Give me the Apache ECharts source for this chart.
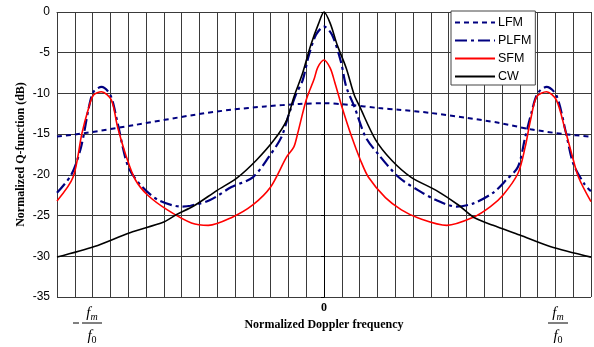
<!DOCTYPE html>
<html>
<head>
<meta charset="utf-8">
<script src="https://cdn.jsdelivr.net/npm/echarts@6/dist/echarts.min.js"></script>
<style>
  html, body { margin: 0; padding: 0; background: #fff; }
  #container { width: 594px; height: 347px; }
</style>
</head>
<body>
<div id="container"></div>
<script>
// x: normalized doppler (one grid cell per unit), y: dB
var lfm = [[-15, -15.3], [-13.5, -14.9], [-10.7, -13.9], [-7.2, -12.6], [-5.2, -12.0], [-3.3, -11.6],
    [-1.4, -11.3], [0, -11.2], [1.4, -11.4], [3.1, -11.8], [4.2, -12.0], [6.0, -12.4],
    [8.0, -13.0], [9.8, -13.6], [11.6, -14.4], [13.5, -15.0], [15, -15.3]];

var plfm = [[-15, -22.2], [-14.2, -20], [-13.65, -16.6], [-13.2, -11.6], [-12.95, -9.8], [-12.5, -9.2],
    [-12.0, -10.2], [-11.6, -13.6], [-11.0, -19], [-10.2, -21.5], [-9.3, -23.1], [-8.0, -23.9],
    [-7.5, -23.8], [-6.4, -23.1], [-5.2, -21.5], [-4.0, -20.3], [-3.1, -17.8], [-2.4, -15.4],
    [-1.95, -12.4], [-1.55, -10], [-1.2, -8.4], [-0.85, -5.3], [-0.45, -2.8], [0, -1.8],
    [0.45, -2.8], [0.95, -6.1], [1.25, -9.2], [1.7, -11.6], [2.35, -15.4], [3.1, -17.6],
    [4.2, -20.3], [5.3, -21.9], [6.3, -23.1], [7.45, -23.9], [8.4, -23.5], [9.5, -22.2],
    [10.25, -20.6], [10.9, -19], [11.3, -15.4], [11.65, -12.4], [12.0, -10], [12.5, -9.2],
    [13.05, -10.2], [13.6, -14.9], [14.0, -18.6], [14.65, -21.2], [15, -22]];

var sfm = [[-15, -23.2], [-14.1, -20.3], [-13.6, -14.9], [-13.25, -12], [-12.95, -10.2], [-12.5, -9.8],
    [-11.95, -10.8], [-11.6, -14.1], [-11.1, -17.8], [-10.6, -20.6], [-9.9, -22.5], [-8.8, -24.3],
    [-7.45, -25.9], [-6.5, -26.2], [-5.15, -25.2], [-4.0, -23.7], [-3.0, -21.5], [-2.1, -17.8],
    [-1.7, -16.6], [-1.5, -15.1], [-1.0, -10.8], [-0.55, -8.2], [-0.35, -6.8], [0, -5.9],
    [0.35, -6.9], [0.6, -8.6], [1.0, -11.6], [1.55, -15.3], [2.05, -18.2], [2.5, -20.3],
    [3.45, -22.8], [4.35, -24.3], [5.3, -25.3], [6.9, -26.2], [8.4, -25.2], [9.35, -23.9],
    [10.05, -22.5], [10.9, -19.8], [11.3, -16.6], [11.6, -13.3], [11.95, -10.4], [12.5, -9.8],
    [13.05, -10.8], [13.55, -14.5], [13.9, -17.3], [14.3, -20.3], [15, -23.3]];

var cw = [[-15, -30.1], [-12.9, -28.8], [-10.9, -27.1], [-9.0, -25.8], [-8.3, -24.9], [-7.3, -23.8],
    [-6.0, -21.9], [-4.9, -20.4], [-3.8, -18.2], [-2.8, -15.7], [-2.1, -13.3], [-1.7, -10.5],
    [-1.2, -7.5], [-0.75, -4.1], [-0.3, -1.4], [0, 0], [0.35, -1.4], [0.75, -4.1],
    [1.25, -6.9], [1.7, -10.2], [2.0, -11.6], [2.9, -15.7], [3.8, -18.2], [4.9, -20.3],
    [6.3, -21.9], [7.55, -23.7], [8.4, -25.2], [9.5, -26.2], [11.0, -27.4], [12.7, -28.8], [15, -30.1]];

var yTicks = { min: -35, max: 0, step: 5 };
var xTicks = { min: -15, max: 15, step: 1 };

var dom = document.getElementById("container");
var myChart = echarts.init(dom);

var gridColor = '#3a3a3a';
var serif = '"Liberation Serif", "Times New Roman", serif';
var sans = '"Liberation Sans", Arial, sans-serif';

// fraction label f_m / f_0, drawn as text + bar
function fraction(cx, withMinus) {
    var els = [
        { type: 'text', x: cx, y: 313,
          style: { text: '{f|f}{s|m}', align: 'center', verticalAlign: 'middle',
                   rich: { f: { fontFamily: serif, fontStyle: 'italic', fontSize: 15 },
                           s: { fontFamily: serif, fontStyle: 'italic', fontSize: 10, padding: [8, 0, 0, 0] } } } },
        { type: 'line', shape: { x1: cx - 10, y1: 323, x2: cx + 10, y2: 323 },
          style: { stroke: '#000', lineWidth: 1 } },
        { type: 'text', x: cx, y: 336,
          style: { text: '{f|f}{s|0}', align: 'center', verticalAlign: 'middle',
                   rich: { f: { fontFamily: serif, fontStyle: 'italic', fontSize: 15 },
                           s: { fontFamily: serif, fontSize: 10, padding: [8, 0, 0, 0] } } } }
    ];
    if (withMinus) {
        els.push({ type: 'line', shape: { x1: cx - 19, y1: 323, x2: cx - 13, y2: 323 },
                   style: { stroke: '#000', lineWidth: 1 } });
    }
    return els;
}

var option = {
    animation: false,
    backgroundColor: '#fff',
    grid: { left: 57, right: 1, top: 12, bottom: 50 },
    legend: {
        orient: 'vertical',
        left: 451,
        top: 11,
        padding: [5, 4, 2, 3],
        itemGap: 5,
        itemWidth: 40,
        itemHeight: 14,
        backgroundColor: '#fff',
        borderColor: '#444',
        borderWidth: 1,
        itemStyle: { color: 'rgba(0,0,0,0)', borderWidth: 0 },
        textStyle: { fontFamily: sans, fontSize: 12.5, color: '#000', padding: [0, 0, 0, -2] },
        data: ['LFM', 'PLFM', 'SFM', 'CW']
    },
    xAxis: {
        type: 'value',
        min: xTicks.min,
        max: xTicks.max,
        interval: xTicks.step,
        name: 'Normalized Doppler frequency',
        nameLocation: 'middle',
        nameGap: 22,
        nameTextStyle: { fontFamily: serif, fontWeight: 'bold', fontSize: 12, color: '#000' },
        axisLine: { show: true, lineStyle: { color: gridColor } },
        axisTick: { show: false },
        axisLabel: {
            margin: 5,
            fontFamily: serif, fontWeight: 'bold', fontSize: 12, color: '#000',
            formatter: function (v) { return v === 0 ? '0' : ''; }
        },
        splitLine: { show: true, lineStyle: { color: gridColor, width: 1 } }
    },
    yAxis: {
        type: 'value',
        min: yTicks.min,
        max: yTicks.max,
        interval: yTicks.step,
        name: 'Normalized Q-function (dB)',
        nameLocation: 'middle',
        nameGap: 30,
        nameMoveOverlap: false,
        nameTextStyle: { fontFamily: serif, fontWeight: 'bold', fontSize: 12, color: '#000' },
        axisLine: { show: true, lineStyle: { color: '#000' } },
        axisTick: { show: true, length: 3, lineStyle: { color: '#000' } },
        axisLabel: { margin: 7, fontFamily: sans, fontSize: 12, color: '#000' },
        splitLine: { show: true, lineStyle: { color: gridColor, width: 1 } }
    },
    graphic: fraction(92, true).concat(fraction(558, false)),
    series: [
        { name: 'LFM', type: 'line', data: lfm, symbol: 'none', smooth: 0.3,
          lineStyle: { color: '#000080', width: 2, type: [5, 4] }, itemStyle: { color: '#000080' } },
        { name: 'PLFM', type: 'line', data: plfm, symbol: 'none', smooth: 0.3,
          lineStyle: { color: '#000080', width: 2.2, type: [12, 4, 3, 4] }, itemStyle: { color: '#000080' } },
        { name: 'SFM', type: 'line', data: sfm, symbol: 'none', smooth: 0.3,
          lineStyle: { color: '#ff0000', width: 1.6 }, itemStyle: { color: '#ff0000' } },
        { name: 'CW', type: 'line', data: cw, symbol: 'none', smooth: 0.3,
          lineStyle: { color: '#000', width: 1.6 }, itemStyle: { color: '#000' } }
    ]
};

if (option && typeof option === "object") {
    myChart.setOption(option, true);
}
</script>
</body>
</html>
